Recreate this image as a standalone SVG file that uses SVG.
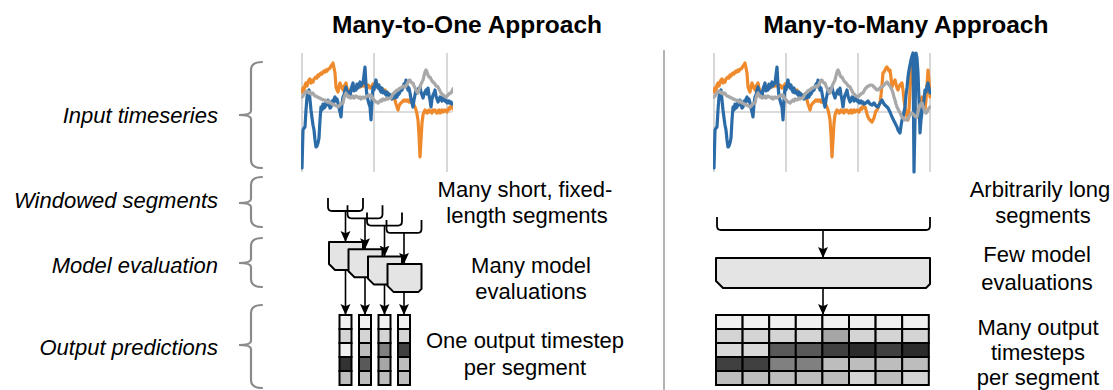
<svg xmlns="http://www.w3.org/2000/svg" xmlns:xlink="http://www.w3.org/1999/xlink" width="1113" height="390" viewBox="0 0 1113 390">
<style>
.title{font-family:"Liberation Sans",Arial,sans-serif;font-weight:bold;font-size:24.5px;fill:#000}
.lab{font-family:"Liberation Sans",Arial,sans-serif;font-style:italic;font-size:22px;fill:#000}
.desc{font-family:"Liberation Sans",Arial,sans-serif;font-size:22px;fill:#000}
.brace{fill:none;stroke:#8a8a8a;stroke-width:2.2;stroke-linecap:round}
.grid{stroke:#cfcfcf;stroke-width:1.6;fill:none}
.s{fill:none;stroke-width:3.2;stroke-linejoin:round;stroke-linecap:round}
.blue{stroke:#2b6ca8}
.orange{stroke:#ef8a2c}
.gray{stroke:#a8a8a8}
.brk{fill:none;stroke:#000;stroke-width:1.8}
.arr{fill:none;stroke:#000;stroke-width:1.6;marker-end:url(#ah)}
.box{fill:#e4e4e4;stroke:#000;stroke-width:2;stroke-linejoin:round}
.cell{stroke:#000;stroke-width:2}
</style>
<defs>
<marker id="ah" viewBox="0 0 10 10" refX="10" refY="5" markerWidth="11" markerHeight="11" markerUnits="userSpaceOnUse" orient="auto">
<path d="M0,0.5 L10,5 L0,9.5 L2,5 z" fill="#000"/>
</marker>
<clipPath id="clipL"><rect x="301" y="45" width="152" height="132"/></clipPath>
<clipPath id="clipR"><rect x="713" y="45" width="218" height="132"/></clipPath>
<g id="series">
<polyline class="s orange" points="0,92 1,88 2,90 3,85 4,83 5,86 6,82 7,80 8,79 9,83 10,81 11,82 12,79 13,78 14,77 15,78 16,75 17,76 18,74 19,73 20,74 21,72 22,71 23,72 24,70 25,71 26,69 27,69 28,68 29,66 30,65 31,63 32,68 33,73 34,87 35,90 36,92 37,87 38,83 39,86 40,88 41,90 42,86 43,85 44,83 45,88 46,90 47,92 48,93 49,91 50,88 51,90 52,87 53,88 54,86 55,88 56,87 57,85 58,87 59,86 60,84 61,86 62,85 63,85 64,87 65,88 66,85 67,86 68,88 69,87 70,86 71,84 72,86 73,85 74,84 75,86 76,85 77,87 78,88 79,88 80,89 81,90 82,91 83,90 84,92 85,93 86,93 87,95 88,96 89,97 90,96 91,98 92,99 93,100 94,104 95,107 96,110 97,106 98,104 99,103 100,102 101,101 102,100 103,101 104,100 105,101 106,100 107,102 108,101 109,102 110,103 111,104 112,105 113,107 114,110 115,114 116,120 117,135 118,157 119,140 120,123 121,115 122,112 123,110 124,111 125,113 126,112 127,110 128,112 129,111 130,113 131,110 132,111 133,110 134,112 135,113 136,111 137,110 138,113 139,112 140,110 141,112 142,111 143,110 144,111 145,112 146,110 147,108 148,109 149,106 150,107 151,107 152,110 153,114 154,117 155,119 156,120 157,121 158,122 159,120 160,118 161,114 162,111 163,110 164,108 165,105 166,103 167,95 168,85 169,73 170,72 171,70 172,68 173,67 174,69 175,71 176,70 177,78 178,87 179,84 180,82 181,80 182,84 183,88 184,90 185,87 186,85 187,84 188,83 189,90 190,100 191,107 192,112 193,117 194,120 195,110 196,90 197,72 198,63 199,75 200,90 201,107 202,112 203,115 204,117 205,110 206,104 207,100 208,97 209,102 210,106 211,110 212,100 213,85 214,70 215,80 216,97"/>
<polyline class="s blue" points="0,168 1,130 2,128 3,127 4,110 5,97 6,92 7,90 8,100 9,110 10,118 11,125 12,130 13,140 14,147 15,146 16,143 17,138 18,120 19,107 20,110 21,104 22,108 23,107 24,102 25,105 26,100 27,104 28,108 29,107 30,101 31,104 32,99 33,97 34,101 35,99 36,103 37,108 38,112 39,117 40,104 41,97 42,95 43,90 44,87 45,93 46,96 47,92 48,97 49,89 50,86 51,83 52,91 53,88 54,90 55,84 56,88 57,85 58,82 59,86 60,84 61,83 62,75 63,67 64,85 65,97 66,100 67,104 68,107 69,120 70,100 71,87 72,90 73,84 74,80 75,86 76,88 77,85 78,90 79,92 80,88 81,93 82,91 83,93 84,95 85,92 86,96 87,94 88,97 89,95 90,99 91,96 92,98 93,98 94,95 95,97 96,93 97,94 98,92 99,89 100,90 101,87 102,84 103,86 104,80 105,86 106,90 107,88 108,93 109,99 110,103 111,107 112,100 113,95 114,90 115,93 116,89 117,91 118,87 119,92 120,95 121,98 122,94 123,92 124,90 125,94 126,88 127,95 128,100 129,107 130,99 131,95 132,93 133,90 134,96 135,99 136,102 137,100 138,97 139,99 140,101 141,97 142,99 143,101 144,100 145,103 146,103 147,101 148,103 149,102 150,104 152,103 154,101 156,104 158,105 160,103 162,106 164,107 166,103 168,100 170,104 172,106 174,108 176,112 178,117 180,121 182,125 183,127 184,130 186,133 187,126 188,120 189,117 190,112 191,107 192,95 193,88 194,77 195,70 196,65 197,60 198,56 199,53 200,172 201,120 202,53 203,58 204,73 205,100 206,133 207,120 208,112 209,107 210,100 211,90 212,92 213,86 214,83 215,88 216,93"/>
<polyline class="s gray" points="0,97 1,96 2,94 3,93 4,92 5,91 6,92 7,93 8,92 9,94 10,93 11,93 12,95 13,96 14,96 15,97 16,97 17,98 18,98 19,99 20,99 21,100 22,100 23,100 24,101 25,102 26,101 27,102 28,103 29,103 30,104 31,104 32,105 33,105 34,106 35,106 36,107 37,106 38,105 39,104 40,103 41,103 42,98 43,95 44,93 45,95 46,97 47,96 48,98 49,98 50,97 51,96 52,98 53,97 54,96 55,97 56,97 57,98 58,97 59,99 60,98 61,97 62,98 63,98 64,97 65,96 66,96 67,95 68,96 69,95 70,97 71,99 72,100 73,101 74,102 75,102 76,103 77,102 78,101 79,100 80,101 81,99 82,100 83,100 84,99 85,98 86,99 87,98 88,98 89,98 90,96 91,94 92,93 93,92 94,91 95,90 96,90 97,89 98,88 99,88 100,87 101,87 102,86 103,87 104,86 105,84 106,82 107,80 108,80 109,82 110,83 111,83 112,86 113,88 114,90 115,92 116,93 117,90 118,87 119,84 120,82 121,80 122,76 123,72 124,70 125,72 126,75 127,77 128,77 129,79 130,81 131,82 132,83 133,84 134,86 135,86 136,87 137,89 138,91 139,93 140,94 141,95 142,96 143,96 144,97 145,96 146,95 147,94 148,93 149,93 150,91 151,89 152,88 153,87 154,86 155,86 156,85 157,85 158,85 159,86 160,87 161,88 162,89 163,90 164,90 165,89 166,88 167,87 168,87 169,86 170,85 171,84 172,83 173,82 174,83 175,85 176,86 177,88 178,90 179,93 180,97 181,100 182,104 183,107 184,109 185,111 186,113 187,115 188,117 189,118 190,119 191,120 192,120 193,120 194,118 195,117 196,115 197,114 198,113 199,114 200,115 201,116 202,117 203,117 204,112 205,108 206,105 207,104 208,103 209,106 210,109 211,112 212,113 213,112 214,110 215,108 216,107"/>
</g>
</defs>

<rect x="0" y="0" width="1113" height="390" fill="#fff"/>

<g id="titles">
<text class="title" x="467" y="33" text-anchor="middle">Many-to-One Approach</text>
<text class="title" x="906" y="33" text-anchor="middle">Many-to-Many Approach</text>
</g>

<line x1="664" y1="50" x2="664" y2="390" stroke="#9a9a9a" stroke-width="1.5"/>

<g id="row-labels">
<path class="brace" d="M262,62 Q251,62 251,70 L251,111 Q251,115 239,115 Q251,115 251,119 L251,160 Q251,168 262,168"/>
<text class="lab" x="218" y="123" text-anchor="end">Input timeseries</text>
<path class="brace" d="M262,177 Q251,177 251,185 L251,199 Q251,203 239,203 Q251,203 251,207 L251,219 Q251,227 262,227"/>
<text class="lab" x="218" y="208" text-anchor="end">Windowed segments</text>
<path class="brace" d="M262,238 Q251,238 251,246 L251,259 Q251,263 239,263 Q251,263 251,267 L251,279 Q251,287 262,287"/>
<text class="lab" x="218" y="273" text-anchor="end">Model evaluation</text>
<path class="brace" d="M262,305 Q251,305 251,313 L251,341 Q251,345 239,345 Q251,345 251,349 L251,380 Q251,388 262,388"/>
<text class="lab" x="218" y="355" text-anchor="end">Output predictions</text>
</g>

<g id="chart-left">
<line class="grid" x1="302" y1="53" x2="302" y2="172"/>
<line class="grid" x1="374" y1="53" x2="374" y2="172"/>
<line class="grid" x1="447" y1="53" x2="447" y2="172"/>
<line class="grid" x1="302" y1="112" x2="452" y2="112"/>
<g clip-path="url(#clipL)"><g transform="translate(302,0)"><use xlink:href="#series"/></g></g>
</g>

<g id="chart-right">
<line class="grid" x1="714" y1="53" x2="714" y2="172"/>
<line class="grid" x1="786" y1="53" x2="786" y2="172"/>
<line class="grid" x1="858" y1="53" x2="858" y2="172"/>
<line class="grid" x1="930" y1="53" x2="930" y2="172"/>
<line class="grid" x1="714" y1="112" x2="930" y2="112"/>
<g clip-path="url(#clipR)"><g transform="translate(714,0)"><use xlink:href="#series"/></g></g>
</g>

<g id="connectors">
<path class="brk" d="M328,198 L328,207 Q328,211 332,211 L359,211 Q363,211 363,207 L363,198"/>
<path class="brk" d="M347.5,205.3 L347.5,214.3 Q347.5,218.3 351.5,218.3 L378.5,218.3 Q382.5,218.3 382.5,214.3 L382.5,205.3"/>
<path class="brk" d="M367,212.6 L367,221.6 Q367,225.6 371,225.6 L398,225.6 Q402,225.6 402,221.6 L402,212.6"/>
<path class="brk" d="M386.5,219.9 L386.5,228.9 Q386.5,232.9 390.5,232.9 L417.5,232.9 Q421.5,232.9 421.5,228.9 L421.5,219.9"/>
<line class="arr" x1="345.5" y1="211" x2="345.5" y2="242"/>
<line class="arr" x1="365" y1="218.3" x2="365" y2="249.3"/>
<line class="arr" x1="384.5" y1="225.6" x2="384.5" y2="256.6"/>
<line class="arr" x1="404" y1="232.9" x2="404" y2="263.9"/>
<line class="arr" x1="345.5" y1="270" x2="345.5" y2="315"/>
<line class="arr" x1="365" y1="277.3" x2="365" y2="315"/>
<line class="arr" x1="384.5" y1="284.6" x2="384.5" y2="315"/>
<line class="arr" x1="404" y1="291.9" x2="404" y2="315"/>
<path class="brk" d="M717,217 L717,226 Q717,230 721,230 L926,230 Q930,230 930,226 L930,217"/>
<line class="arr" x1="823" y1="230" x2="823" y2="258"/>
<line class="arr" x1="823" y1="288" x2="823" y2="315"/>
</g>

<g id="model-left">
<path class="box" d="M329,242 H363 V267 L360,270 H335 L329,264 Z"/>
<path class="box" d="M348.5,249.3 H382.5 V274.3 L379.5,277.3 H354.5 L348.5,271.3 Z"/>
<path class="box" d="M368,256.6 H402 V281.6 L399,284.6 H374 L368,278.6 Z"/>
<path class="box" d="M387.5,263.9 H421.5 V288.9 L418.5,291.9 H393.5 L387.5,285.9 Z"/>
</g>

<g id="model-right">
<path class="box" d="M716,258 H930 V284 L926,288 H723 L716,281 Z"/>
</g>

<g id="out-left">
<rect class="cell" x="339.5" y="315" width="12" height="14" fill="#f0f0f0"/>
<rect class="cell" x="339.5" y="329" width="12" height="14" fill="#d4d4d4"/>
<rect class="cell" x="339.5" y="343" width="12" height="14" fill="#f0f0f0"/>
<rect class="cell" x="339.5" y="357" width="12" height="14" fill="#333333"/>
<rect class="cell" x="339.5" y="371" width="12" height="14" fill="#bdbdbd"/>
<rect class="cell" x="359" y="315" width="12" height="14" fill="#f0f0f0"/>
<rect class="cell" x="359" y="329" width="12" height="14" fill="#d4d4d4"/>
<rect class="cell" x="359" y="343" width="12" height="14" fill="#bdbdbd"/>
<rect class="cell" x="359" y="357" width="12" height="14" fill="#595959"/>
<rect class="cell" x="359" y="371" width="12" height="14" fill="#bdbdbd"/>
<rect class="cell" x="378.5" y="315" width="12" height="14" fill="#f0f0f0"/>
<rect class="cell" x="378.5" y="329" width="12" height="14" fill="#d4d4d4"/>
<rect class="cell" x="378.5" y="343" width="12" height="14" fill="#808080"/>
<rect class="cell" x="378.5" y="357" width="12" height="14" fill="#a6a6a6"/>
<rect class="cell" x="378.5" y="371" width="12" height="14" fill="#bdbdbd"/>
<rect class="cell" x="398" y="315" width="12" height="14" fill="#f0f0f0"/>
<rect class="cell" x="398" y="329" width="12" height="14" fill="#d4d4d4"/>
<rect class="cell" x="398" y="343" width="12" height="14" fill="#404040"/>
<rect class="cell" x="398" y="357" width="12" height="14" fill="#bdbdbd"/>
<rect class="cell" x="398" y="371" width="12" height="14" fill="#bdbdbd"/>
</g>

<g id="out-right">
<g fill="#f0f0f0">
<rect class="cell" x="716" y="315" width="26.6" height="14"/><rect class="cell" x="742.6" y="315" width="26.6" height="14"/><rect class="cell" x="769.2" y="315" width="26.6" height="14"/><rect class="cell" x="795.8" y="315" width="26.6" height="14"/><rect class="cell" x="822.4" y="315" width="26.6" height="14"/><rect class="cell" x="849" y="315" width="26.6" height="14"/><rect class="cell" x="875.6" y="315" width="26.6" height="14"/><rect class="cell" x="902.2" y="315" width="26.6" height="14"/>
</g>
<rect class="cell" x="716" y="329" width="26.6" height="14" fill="#d4d4d4"/><rect class="cell" x="742.6" y="329" width="26.6" height="14" fill="#d4d4d4"/><rect class="cell" x="769.2" y="329" width="26.6" height="14" fill="#d4d4d4"/><rect class="cell" x="795.8" y="329" width="26.6" height="14" fill="#d4d4d4"/><rect class="cell" x="822.4" y="329" width="26.6" height="14" fill="#a6a6a6"/><rect class="cell" x="849" y="329" width="26.6" height="14" fill="#d4d4d4"/><rect class="cell" x="875.6" y="329" width="26.6" height="14" fill="#d4d4d4"/><rect class="cell" x="902.2" y="329" width="26.6" height="14" fill="#d4d4d4"/>
<rect class="cell" x="716" y="343" width="26.6" height="14" fill="#d9d9d9"/><rect class="cell" x="742.6" y="343" width="26.6" height="14" fill="#d9d9d9"/><rect class="cell" x="769.2" y="343" width="26.6" height="14" fill="#595959"/><rect class="cell" x="795.8" y="343" width="26.6" height="14" fill="#595959"/><rect class="cell" x="822.4" y="343" width="26.6" height="14" fill="#404040"/><rect class="cell" x="849" y="343" width="26.6" height="14" fill="#2b2b2b"/><rect class="cell" x="875.6" y="343" width="26.6" height="14" fill="#404040"/><rect class="cell" x="902.2" y="343" width="26.6" height="14" fill="#2b2b2b"/>
<rect class="cell" x="716" y="357" width="26.6" height="14" fill="#404040"/><rect class="cell" x="742.6" y="357" width="26.6" height="14" fill="#404040"/><rect class="cell" x="769.2" y="357" width="26.6" height="14" fill="#808080"/><rect class="cell" x="795.8" y="357" width="26.6" height="14" fill="#808080"/><rect class="cell" x="822.4" y="357" width="26.6" height="14" fill="#bdbdbd"/><rect class="cell" x="849" y="357" width="26.6" height="14" fill="#bdbdbd"/><rect class="cell" x="875.6" y="357" width="26.6" height="14" fill="#bdbdbd"/><rect class="cell" x="902.2" y="357" width="26.6" height="14" fill="#bdbdbd"/>
<rect class="cell" x="716" y="371" width="26.6" height="14" fill="#bdbdbd"/><rect class="cell" x="742.6" y="371" width="26.6" height="14" fill="#bdbdbd"/><rect class="cell" x="769.2" y="371" width="26.6" height="14" fill="#bdbdbd"/><rect class="cell" x="795.8" y="371" width="26.6" height="14" fill="#bdbdbd"/><rect class="cell" x="822.4" y="371" width="26.6" height="14" fill="#bdbdbd"/><rect class="cell" x="849" y="371" width="26.6" height="14" fill="#d4d4d4"/><rect class="cell" x="875.6" y="371" width="26.6" height="14" fill="#bdbdbd"/><rect class="cell" x="902.2" y="371" width="26.6" height="14" fill="#d4d4d4"/>
</g>

<g id="desc-left">
<text class="desc" x="525" y="197" text-anchor="middle">Many short, fixed-</text>
<text class="desc" x="527" y="223" text-anchor="middle">length segments</text>
<text class="desc" x="531" y="273" text-anchor="middle">Many model</text>
<text class="desc" x="531" y="299" text-anchor="middle">evaluations</text>
<text class="desc" x="525" y="348" text-anchor="middle">One output timestep</text>
<text class="desc" x="525" y="375" text-anchor="middle">per segment</text>
</g>

<g id="desc-right">
<text class="desc" x="1040" y="197" text-anchor="middle">Arbitrarily long</text>
<text class="desc" x="1043" y="223" text-anchor="middle">segments</text>
<text class="desc" x="1037" y="262" text-anchor="middle">Few model</text>
<text class="desc" x="1037" y="290" text-anchor="middle">evaluations</text>
<text class="desc" x="1038" y="335" text-anchor="middle">Many output</text>
<text class="desc" x="1038" y="360" text-anchor="middle">timesteps</text>
<text class="desc" x="1038" y="385" text-anchor="middle">per segment</text>
</g>
</svg>
